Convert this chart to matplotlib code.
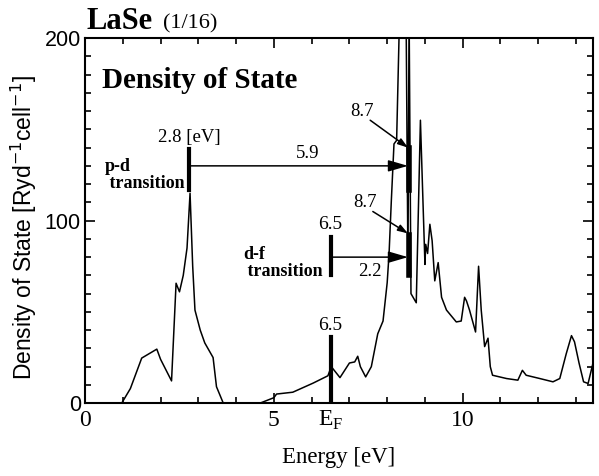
import numpy as np
import matplotlib.pyplot as plt
from matplotlib.ticker import MultipleLocator

# LaSe density of states (energy in eV, DOS per Ryd per cell)
energy = [0.97, 1.2, 1.5, 1.9, 2.0, 2.29, 2.41, 2.5, 2.6, 2.7, 2.78, 2.85, 2.91, 3.05,
          3.17, 3.39, 3.48, 3.66,
          4.63, 5.0, 5.07, 5.5, 6.04, 6.43, 6.52, 6.75, 7.0, 7.14, 7.22, 7.29, 7.43,
          7.58, 7.75, 7.89, 8.0, 8.05, 8.11, 8.18, 8.25, 8.33, 8.5, 8.55, 8.58, 8.63,
          8.77, 8.88, 8.93, 9.0, 9.02, 9.07, 9.13, 9.19, 9.26, 9.35, 9.44, 9.57, 9.83,
          9.96, 10.05, 10.1, 10.18, 10.34, 10.42, 10.49, 10.58, 10.67, 10.73, 10.79,
          11.16, 11.46, 11.58, 11.68, 12.04, 12.39, 12.57, 12.74, 12.88, 12.96, 13.08,
          13.2, 13.32, 13.45]
dos = [0, 8, 24.7, 29.6, 24, 12.2, 65.7, 61, 70, 85, 115, 75, 51, 40,
       33, 25, 9, 0,
       0, 3, 5, 6, 11, 15, 20, 14, 22, 22.6, 25.7, 20, 14.4,
       20, 38, 45, 66, 82, 111, 142, 144, 215, 215, 75, 215, 60,
       55, 155, 122, 76, 87, 82, 98, 89, 67, 77, 58, 51, 44.5,
       45, 58, 56, 51, 39, 75, 51, 31, 35.6, 20, 15.3,
       13.5, 12.6, 18, 15.3, 13.5, 11.7, 13.5, 27, 37, 33.6, 22,
       11.7, 10.8, 22]

# transition markers
pd_from, pd_to, pd_level = 2.75, 8.55, 130
df_from, df_to, df_level = 6.5, 8.55, 80
e_fermi = 6.5

serif = ['Liberation Serif', 'DejaVu Serif']
sans = ['Liberation Sans', 'DejaVu Sans']

fig = plt.figure(figsize=(5.99, 4.76), dpi=100)
ax = fig.add_axes([0.142, 0.153, 0.848, 0.767])
ax.plot(energy, dos, color='black', lw=1.1)
ax.set_xlim(0, 13.45)
ax.set_ylim(0, 200)

# ticks
ax.xaxis.set_major_locator(MultipleLocator(5))
ax.xaxis.set_minor_locator(MultipleLocator(1))
ax.yaxis.set_major_locator(MultipleLocator(100))
ax.yaxis.set_minor_locator(MultipleLocator(10))
ax.tick_params(which='both', direction='in', top=True, right=True, width=1.2)
ax.tick_params(which='major', length=7)
ax.tick_params(which='minor', length=4)
ax.tick_params(axis='x', labelsize=17, pad=5)
ax.tick_params(axis='y', labelsize=15.5, pad=3)
for lab in ax.get_xticklabels():
    lab.set_family(serif)
for lab in ax.get_yticklabels():
    lab.set_family(sans)
for sp in ax.spines.values():
    sp.set_linewidth(1.5)

ax.set_xlabel('Energy [eV]', family=serif, fontsize=16.5)
ax.xaxis.set_label_coords(0.5, -0.12)
ax.set_ylabel('Density of State [Ryd$^{-1}$cell$^{-1}$]', family=sans, fontsize=16.5)
ax.yaxis.set_label_coords(-0.09, 0.48)

fig.text(0.145, 0.94, 'LaSe', family=serif, fontsize=22, weight='bold', va='baseline')
fig.text(0.272, 0.94, '(1/16)', family=serif, fontsize=16, va='baseline')
ax.text(0.45, 177, 'Density of State', family=serif, fontsize=21, weight='bold', va='center')

# Fermi level
ax.plot([e_fermi, e_fermi], [0, 36], color='black', lw=3)
ax.text(e_fermi, 38, '6.5', family=serif, fontsize=14, ha='center', va='bottom')
ax.text(e_fermi, -3, 'E$_\\mathregular{F}$', family=serif, fontsize=17, ha='center', va='top')

# p-d transition
ax.plot([pd_from, pd_from], [117, 139], color='black', lw=3)
ax.text(pd_from, 141, '2.8 [eV]', family=serif, fontsize=13.5, ha='center', va='bottom')
ax.text(pd_from - 0.12, 125, 'p-d\n transition', family=serif, fontsize=13,
        weight='bold', ha='right', va='center', linespacing=1.0, multialignment='left')
ax.annotate('', xy=(pd_to, pd_level), xytext=(pd_from, pd_level),
            arrowprops=dict(arrowstyle='-|>,head_length=1.2,head_width=0.35',
                            color='black', lw=1.1, shrinkA=0, shrinkB=0))
ax.text(5.9, 132, '5.9', family=serif, fontsize=13.5, ha='center', va='bottom')
ax.plot([pd_to + 0.03, pd_to + 0.03], [117, 140], color='black', lw=4)
ax.annotate('', xy=(pd_to, 140), xytext=(7.55, 155),
            arrowprops=dict(arrowstyle='-|>,head_length=0.6,head_width=0.2',
                            color='black', lw=1.1, shrinkA=0, shrinkB=0))
ax.text(7.32, 155, '8.7', family=serif, fontsize=13.5, ha='center', va='bottom')

# d-f transition
ax.plot([df_from, df_from], [70, 91], color='black', lw=3)
ax.text(df_from, 93, '6.5', family=serif, fontsize=14, ha='center', va='bottom')
ax.text(df_from - 0.2, 77, 'd-f\n transition', family=serif, fontsize=13,
        weight='bold', ha='right', va='center', linespacing=1.0, multialignment='left')
ax.annotate('', xy=(df_to, df_level), xytext=(df_from, df_level),
            arrowprops=dict(arrowstyle='-|>,head_length=1.2,head_width=0.35',
                            color='black', lw=1.1, shrinkA=0, shrinkB=0))
ax.text(7.55, 77, '2.2', family=serif, fontsize=13.5, ha='center', va='top')
ax.plot([df_to + 0.03, df_to + 0.03], [70, 92], color='black', lw=4)
ax.annotate('', xy=(df_to, 93), xytext=(7.62, 105),
            arrowprops=dict(arrowstyle='-|>,head_length=0.6,head_width=0.2',
                            color='black', lw=1.1, shrinkA=0, shrinkB=0))
ax.text(7.4, 105, '8.7', family=serif, fontsize=13.5, ha='center', va='bottom')

fig.savefig('out.png', dpi=100)
